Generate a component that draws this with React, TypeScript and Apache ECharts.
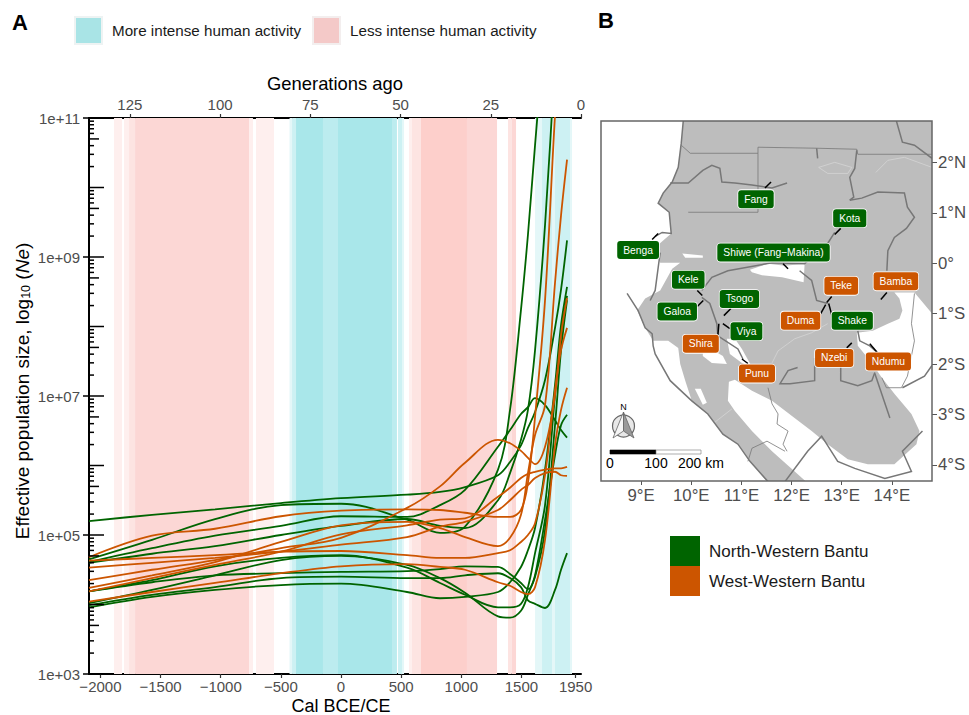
import React, { useEffect, useRef } from "react";
import * as echarts from "echarts";

// ---------- Panel A data (log10 Ne read at these calendar years) ----------
const years = [-2095, -1571, -1047, -499, 0, 549, 823, 1031, 1305, 1405, 1496, 1554, 1613, 1696, 1779, 1829, 1879];

const green1 = [5.20, 5.29, 5.37, 5.46, 5.53, 5.58, 5.62, 5.69, 5.86, 6.05, 6.29, 6.54, 6.77, 7.23, 7.98, 8.53, 9.24];
const green2 = [4.61, 4.81, 4.99, 5.13, 5.27, 5.26, 5.43, 5.65, 6.27, 6.51, 6.74, 6.84, 6.97, 6.87, 6.65, 6.51, 6.40];
const green3 = [4.65, 4.93, 5.23, 5.43, 5.45, 5.22, 5.03, 5.12, 5.94, 6.80, 8.24, 9.32, 10.61, 12.27, 13.42, 13.99, 14.57];
const green4 = [4.60, 4.73, 4.84, 5.00, 5.13, 5.23, 5.13, 5.10, 5.50, 5.89, 6.37, 6.80, 7.66, 9.46, 11.83, 13.27, 14.42];
const green5 = [4.19, 4.32, 4.42, 4.45, 4.47, 4.48, 4.51, 4.55, 4.54, 4.44, 4.31, 4.22, 4.40, 5.07, 6.58, 7.66, 8.38];
const green6 = [3.99, 4.14, 4.25, 4.38, 4.40, 4.38, 4.38, 4.42, 4.45, 4.38, 4.25, 4.06, 4.01, 3.95, 4.21, 4.50, 4.74];
const green7 = [3.96, 4.11, 4.21, 4.28, 4.30, 4.18, 4.09, 4.11, 4.18, 4.32, 4.54, 4.78, 5.10, 5.94, 7.16, 8.02, 8.57];
const green8 = [4.19, 4.35, 4.55, 4.67, 4.71, 4.53, 4.31, 4.14, 3.96, 3.96, 4.01, 4.25, 4.74, 5.43, 7.01, 7.88, 8.44];
const green9 = [4.02, 4.21, 4.42, 4.64, 4.70, 4.57, 4.38, 4.17, 3.83, 3.81, 3.91, 4.14, 4.42, 5.22, 6.15, 6.58, 6.73];

const orange1 = [4.68, 4.99, 5.09, 5.27, 5.35, 5.37, 5.36, 5.32, 5.26, 5.26, 5.36, 5.75, 6.70, 8.38, 11.04, 12.27, 13.42];
const orange2 = [4.24, 4.42, 4.61, 4.90, 5.14, 5.19, 5.10, 4.97, 4.84, 4.96, 5.29, 5.89, 6.44, 6.87, 8.63, 9.60, 10.40];
const orange3 = [4.35, 4.50, 4.64, 4.81, 4.96, 5.39, 5.70, 6.04, 6.37, 6.32, 6.21, 6.11, 6.02, 6.27, 7.01, 7.88, 8.41];
const orange4 = [4.63, 4.67, 4.71, 4.76, 4.77, 4.71, 4.67, 4.67, 4.74, 4.78, 4.90, 5.00, 5.17, 5.86, 7.09, 7.66, 7.98];
const orange5 = [4.04, 4.18, 4.31, 4.45, 4.55, 4.58, 4.54, 4.50, 4.32, 4.27, 4.18, 4.15, 4.25, 4.93, 6.29, 6.80, 7.12];
const orange6 = [4.19, 4.38, 4.57, 4.76, 5.01, 5.14, 5.22, 5.24, 5.55, 5.68, 5.82, 5.88, 5.91, 5.94, 5.96, 5.96, 5.98];
const orange7 = [4.53, 4.60, 4.67, 4.76, 4.86, 4.97, 5.12, 5.19, 5.36, 5.50, 5.65, 5.72, 5.82, 5.89, 5.91, 5.86, 5.85];

const greenLines = [green1, green2, green3, green4, green5, green6, green7, green8, green9];
const orangeLines = [orange1, orange2, orange3, orange4, orange5, orange6, orange7];

// Bands: [start year, end year, tier]
const moreBands = [
  [-428, -407, 1], [-407, -374, 2], [-374, -150, 4], [-150, -25, 3], [-25, 424, 4], [424, 465, 3],
  [474, 507, 2], [507, 524, 1], [1613, 1671, 1], [1671, 1754, 2], [1754, 1779, 1], [1779, 1904, 2], [1904, 1920, 1],
];
const lessBands = [
  [-1887, -1820, 1], [-1804, -1762, 1], [-1762, -1712, 2], [-1712, -765, 3], [-765, -732, 1], [-707, -557, 1],
  [565, 590, 1], [590, 615, 2], [615, 665, 2], [665, 1047, 4], [1047, 1297, 3], [1388, 1419, 2], [1419, 1455, 3],
];

const bottomTicks = [-2000, -1500, -1000, -500, 0, 500, 1000, 1500, 1950];
const generationTicks = [0, 25, 50, 75, 100, 125];
const decades = [3, 4, 5, 6, 7, 8, 9, 10, 11];
const logMultipliers = [2, 3, 4, 5, 6, 7, 8, 9];
const labelledDecades = [3, 5, 7, 9, 11];

// ---------- Panel B data (lon, lat) ----------
const landPolygon = [
  [9.84, 2.82], [14.8, 2.82], [14.8, -1.0], [14.45, -0.58], [14.05, -0.58], [14.15, -0.7], [14.21, -0.94], [14.15, -1.1],
  [13.92, -1.2], [13.62, -1.34], [13.3, -1.38], [13.32, -1.64], [13.6, -1.98], [13.8, -2.27], [14.05, -2.59], [14.39, -2.99],
  [14.55, -3.33], [14.49, -3.59], [14.05, -3.99], [13.52, -3.99], [13.12, -3.89], [12.72, -3.59], [12.4, -3.33], [12.06, -3.07],
  [11.61, -2.73], [11.21, -2.53], [10.87, -2.31], [10.75, -2.35], [10.73, -2.73], [10.87, -2.93], [11.21, -3.33], [11.61, -3.73],
  [12.32, -4.36], [11.53, -4.36], [11.17, -3.93], [10.93, -3.59], [10.63, -3.39], [10.33, -2.99], [10.01, -2.73], [9.88, -2.33],
  [9.78, -2.0], [9.74, -1.68], [9.54, -1.54], [9.24, -1.54], [9.08, -1.28], [8.92, -0.94], [9.08, -0.7], [9.38, -0.54],
  [9.62, -0.11], [9.78, 0.01], [9.38, 0.01], [9.28, 0.31], [9.6, 0.59], [9.56, 1.01], [9.34, 1.19], [9.44, 1.39],
  [9.62, 1.61], [9.74, 1.9], [9.8, 2.38],
];
const holeGulf = [[9.82, 0.19], [10.23, 0.15], [10.23, 0.11], [9.88, 0.11]];
const holeLake = [[11.17, -0.13], [11.53, -0.01], [11.87, -0.05], [12.26, -0.01], [12.24, -0.38], [11.81, -0.28], [11.41, -0.24], [11.21, -0.18]];
const holeShira = [[10.23, -1.64], [10.23, -1.84], [10.41, -1.98], [10.71, -2.0], [10.63, -1.84], [10.53, -1.78]];
const holeViya = [[10.71, -1.5], [10.77, -1.8], [11.01, -1.98], [11.21, -2.06], [11.01, -1.7], [10.87, -1.5]];
const holeLagoon = [[10.07, -2.49], [10.19, -2.49], [10.31, -2.77], [10.23, -2.81]];
const holes = [holeGulf, holeLake, holeShira, holeViya, holeLagoon];

const coastNorth = [[9.84, 2.82], [9.8, 2.38], [9.74, 1.9], [9.62, 1.61], [9.44, 1.39], [9.34, 1.19], [9.56, 1.01], [9.6, 0.59], [9.42, 0.61], [9.28, 0.53]];
const coastMiddle = [[9.38, 0.21], [9.34, -0.09], [9.28, -0.54], [9.18, -0.74]];
const coastSouth = [[8.72, -0.6], [8.94, -0.94], [9.08, -1.28], [9.22, -1.4], [9.24, -1.64], [9.28, -1.8], [9.58, -2.33], [10.01, -2.73], [10.33, -2.99], [10.63, -3.39], [10.93, -3.59], [11.17, -3.93], [11.53, -4.33]];
const riverCongo = [[11.87, -4.33], [12.32, -3.73], [12.6, -3.43], [12.92, -3.93], [13.26, -4.07], [13.86, -4.27], [14.39, -4.13], [14.21, -3.73], [14.61, -3.33]];
const riverNorthA = [[12.5, 2.28], [12.52, 2.08]];
const riverNorthB = [[13.3, 2.24], [13.26, 1.88], [13.16, 1.7], [13.24, 1.31], [13.16, 1.25]];
const riverNtem = [[9.58, 1.59], [9.94, 1.59], [10.23, 1.84], [10.41, 1.94], [10.57, 1.88], [10.61, 1.61], [10.87, 1.59], [11.21, 1.55], [11.61, 1.49], [11.91, 1.59]];
const riverEast = [[13.16, 1.25], [13.4, 1.29], [13.72, 1.41], [14.25, 1.39], [14.31, 1.11], [14.45, 0.91], [14.29, 0.69], [14.05, 0.51], [13.92, 0.25], [13.9, -0.15]];
const riverOgooue = [[12.86, 0.61], [12.72, 0.39], [12.26, -0.01], [11.61, 0.01], [10.73, -0.15], [10.41, -0.28], [10.21, -0.54]];
const riverOgooueEast = [[12.16, -0.15], [12.4, -0.34], [12.5, -0.74], [12.72, -0.8]];
const riverNgounie = [[10.21, -0.68], [10.37, -0.8], [10.51, -1.2], [10.53, -1.44], [10.93, -1.7], [11.03, -1.9]];
const riverTopRight = [[14.09, 2.82], [14.21, 2.4], [14.45, 2.34], [14.8, 2.08]];
const riverSouth = [[13.66, -2.19], [13.96, -3.07]];
const riverNdumu = [[13.32, -1.34], [13.36, -1.54], [13.56, -1.64], [13.72, -1.78]];
const riverRight = [[14.21, -2.47], [14.65, -2.24], [14.8, -2.03]];
const borderGabonSouth = [[12.12, -2.07], [11.93, -2.13], [11.77, -2.39], [11.97, -2.39], [12.46, -2.33], [12.46, -1.88]];
const borderGabonEast = [[12.98, -2.0], [12.98, -2.33], [13.32, -2.43], [13.6, -2.33], [13.66, -2.17]];
const thickLines = [coastNorth, coastMiddle, coastSouth, riverCongo, riverNorthA, riverNorthB, riverNtem, riverEast, riverOgooue, riverOgooueEast, riverNgounie, riverTopRight, riverSouth, riverNdumu, riverRight, borderGabonSouth, borderGabonEast];

const borderRioMuni = [[9.8, 2.34], [9.98, 2.18], [11.33, 2.18], [11.33, 1.01], [9.94, 1.01]];
const borderCameroon = [[11.33, 2.18], [11.33, 2.3], [12.5, 2.28], [13.3, 2.26], [13.32, 2.16], [14.8, 2.16]];
const borderCongoA = [[11.53, -2.47], [11.61, -2.79], [11.73, -2.99], [11.71, -3.19], [11.93, -3.33], [11.83, -3.59], [11.91, -3.73]];
const borderCongoB = [[11.13, -3.93], [11.21, -3.67], [11.51, -3.53], [11.87, -3.73]];
const borderEast = [[14.45, -0.6], [14.39, -1.2], [14.45, -1.54], [14.31, -2.24], [14.19, -2.47], [13.89, -2.47], [13.8, -2.27]];
const thinLines = [borderRioMuni, borderCameroon, borderCongoA, borderCongoB, borderEast];

const paleA = [[11.61, -1.98], [11.73, -1.74], [12.06, -1.5], [12.4, -1.38], [12.72, -1.2]];
const paleB = [[10.45, -3.17], [10.81, -2.89]];
const paleC = [[13.68, 1.8], [13.92, 2.04], [14.25, 2.1], [14.8, 1.9]];
const paleD = [[12.54, 1.9], [12.86, 2.0], [13.2, 1.9], [13.12, 1.78], [12.72, 1.78], [12.54, 1.9]];
const paleLines = [paleA, paleB, paleC, paleD];

const connectors = [
  [[11.47, 1.49], [11.59, 1.61]], [[12.86, 0.57], [12.98, 0.69]], [[9.22, 0.47], [9.34, 0.59]], [[11.83, -0.01], [11.93, -0.11]],
  [[10.12, -0.54], [10.22, -0.64]], [[10.65, -1.04], [10.79, -0.9]], [[12.7, -0.78], [12.8, -0.66]], [[13.78, -0.72], [13.9, -0.58]],
  [[10.12, -0.86], [10.24, -0.74]], [[12.58, -1.0], [12.68, -0.82]], [[12.74, -0.8], [12.8, -1.02]], [[10.63, -1.2], [10.77, -1.3]],
  [[10.55, -1.2], [10.53, -1.44]], [[13.1, -1.68], [13.2, -1.58]], [[13.56, -1.6], [13.7, -1.76]], [[11.01, -1.9], [11.13, -1.99]],
];

const northWesternLabels = [
  { name: "Fang", value: [11.29, 1.27] }, { name: "Kota", value: [13.16, 0.89] }, { name: "Benga", value: [8.94, 0.26] },
  { name: "Shiwe (Fang\u2212Makina)", value: [11.64, 0.21] }, { name: "Kele", value: [9.94, -0.33] }, { name: "Tsogo", value: [10.96, -0.71] },
  { name: "Galoa", value: [9.72, -0.96] }, { name: "Shake", value: [13.21, -1.14] }, { name: "Viya", value: [11.1, -1.35] },
];
const westWesternLabels = [
  { name: "Teke", value: [12.99, -0.45] }, { name: "Bamba", value: [14.08, -0.36] }, { name: "Duma", value: [12.18, -1.14] },
  { name: "Shira", value: [10.19, -1.6] }, { name: "Nzebi", value: [12.85, -1.88] }, { name: "Ndumu", value: [13.93, -1.95] },
  { name: "Punu", value: [11.31, -2.19] },
];
const lonTicks = [9, 10, 11, 12, 13, 14];
const latTicks = [-4, -3, -2, -1, 0, 1, 2];

const GREEN = "#006400";
const ORANGE = "#cc5500";
const TEAL_TIERS = ["", "#e4f7f8", "#cdf1f3", "#bcecef", "#a9e7ea"];
const PINK_TIERS = ["", "#feefee", "#fde4e2", "#fcd7d5", "#fdcfcb"];
const FONT = "Liberation Sans";

const bandSeries = (name: string, bands: number[][], tiers: string[], color: string) => ({
  type: "custom",
  name,
  xAxisIndex: 0,
  yAxisIndex: 0,
  z: 1,
  silent: true,
  clip: true,
  itemStyle: { color },
  encode: { x: [0, 1], y: 2 },
  data: bands,
  renderItem: (params: any, api: any) => {
    const x0 = api.coord([api.value(0), 1e5])[0];
    const x1 = api.coord([api.value(1), 1e5])[0];
    const cs = params.coordSys;
    return { type: "rect", shape: { x: x0, y: cs.y, width: x1 - x0, height: cs.height }, style: { fill: tiers[api.value(2)] } };
  },
});

const lineSeries = (name: string, values: number[], color: string, z: number) => ({
  type: "line",
  name,
  xAxisIndex: 0,
  yAxisIndex: 0,
  showSymbol: false,
  smooth: 0.35,
  clip: true,
  z,
  silent: true,
  itemStyle: { color },
  lineStyle: { color, width: 1.8 },
  data: years.map((y, i) => [y, Math.pow(10, values[i])]),
});

const logTickData: number[][] = [];
decades.forEach((d) => {
  logTickData.push([Math.pow(10, d), 15, labelledDecades.includes(d) ? 6 : 0]);
  if (d < 11) logMultipliers.forEach((m) => logTickData.push([m * Math.pow(10, d), m === 5 ? 10 : 5, 0]));
});

const polySeries = (list: number[][][], style: any, z: number, closed: boolean) => ({
  type: "custom",
  xAxisIndex: 2,
  yAxisIndex: 1,
  z,
  silent: true,
  clip: true,
  data: list.map((l) => l[0]),
  renderItem: (params: any, api: any) => ({
    type: closed ? "polygon" : "polyline",
    shape: { points: list[params.dataIndex].map((p) => api.coord(p)) },
    style,
  }),
});

const labelSeries = (data: any[], color: string) => ({
  type: "scatter",
  name: color === GREEN ? "North-Western labels" : "West-Western labels",
  xAxisIndex: 2,
  yAxisIndex: 1,
  symbolSize: 1,
  z: 8,
  silent: true,
  itemStyle: { color, opacity: 1 },
  label: {
    show: true,
    opacity: 1,
    position: "inside",
    formatter: "{b}",
    color: "#ffffff",
    fontSize: 10.3,
    fontFamily: FONT,
    backgroundColor: color,
    borderColor: "#ffffff",
    borderWidth: 0.8,
    borderRadius: 3,
    padding: [4, 6, 4, 6],
  },
  labelLayout: { hideOverlap: false },
  data,
});

export default function App() {
  const ref = useRef<HTMLDivElement>(null);
  useEffect(() => {
    document.body.style.margin = "0";
    const chart = echarts.init(ref.current!, null, { renderer: "svg" });
    const option: any = {
      animation: false,
      backgroundColor: "#ffffff",
      textStyle: { fontFamily: FONT },
      legend: [
        {
          left: 69, top: 11, itemWidth: 27, itemHeight: 27, selectedMode: false,
          textStyle: { fontSize: 15.2, color: "#1a1a1a", fontFamily: FONT, padding: [0, 0, 0, 5] },
          data: [{ name: "More intense human activity", icon: "rect", itemStyle: { color: "#a9e4e6", borderColor: "#eef3f3", borderWidth: 2 } }],
        },
        {
          left: 307, top: 11, itemWidth: 27, itemHeight: 27, selectedMode: false,
          textStyle: { fontSize: 15.2, color: "#1a1a1a", fontFamily: FONT, padding: [0, 0, 0, 5] },
          data: [{ name: "Less intense human activity", icon: "rect", itemStyle: { color: "#f4c9c8", borderColor: "#f3eeee", borderWidth: 2 } }],
        },
        {
          left: 665, top: 531, orient: "vertical", itemWidth: 30, itemHeight: 30, itemGap: 0, selectedMode: false,
          textStyle: { fontSize: 17, color: "#1a1a1a", fontFamily: FONT, padding: [0, 0, 0, 4] },
          data: [
            { name: "North-Western Bantu", icon: "rect", itemStyle: { color: GREEN } },
            { name: "West-Western Bantu", icon: "rect", itemStyle: { color: ORANGE } },
          ],
        },
      ],
      grid: [
        { left: 89, top: 118, width: 492, height: 556, containLabel: false, outerBoundsMode: "none" },
        { left: 601, top: 121, width: 331, height: 360, containLabel: false, outerBoundsMode: "none" },
      ],
      xAxis: [
        {
          type: "value", gridIndex: 0, position: "bottom", min: -2095, max: 1995,
          splitLine: { show: false },
          axisLine: { onZero: false, lineStyle: { color: "#000", width: 2 } },
          axisTick: { length: 4, lineStyle: { color: "#333", width: 1.2 }, customValues: bottomTicks },
          axisLabel: {
            fontSize: 15, color: "#4d4d4d", margin: 5, customValues: bottomTicks, hideOverlap: false,
            formatter: (v: number) => String(v).replace("-", "\u2212"),
          },
        },
        {
          type: "value", gridIndex: 0, position: "top", inverse: true, min: 0, max: 136.33,
          name: "Generations ago", nameLocation: "middle", nameGap: 26,
          nameTextStyle: { fontSize: 18.4, color: "#000", fontFamily: FONT },
          splitLine: { show: false },
          axisLine: { onZero: false, lineStyle: { color: "#000", width: 2 } },
          axisTick: { length: 4, lineStyle: { color: "#333", width: 1.2 }, customValues: generationTicks },
          axisLabel: { fontSize: 15, color: "#4d4d4d", margin: 6, customValues: generationTicks },
        },
        {
          type: "value", gridIndex: 1, position: "bottom", min: 8.2, max: 14.8,
          splitLine: { show: false },
          axisLine: { show: false, onZero: false },
          axisTick: { length: 4, lineStyle: { color: "#555", width: 1 }, customValues: lonTicks },
          axisLabel: { fontSize: 16.8, color: "#4d4d4d", margin: 6, customValues: lonTicks, formatter: (v: number) => `${v}\u00b0E` },
        },
      ],
      yAxis: [
        {
          type: "log", logBase: 10, gridIndex: 0, position: "left", min: 1e3, max: 1e11, interval: 1,
          splitLine: { show: false },
          minorTick: { show: false },
          axisLine: { show: true, onZero: false, lineStyle: { color: "#000", width: 2 } },
          axisTick: { show: false },
          axisLabel: {
            fontSize: 15, color: "#4d4d4d", margin: 9,
            formatter: (v: number) => {
              const e = Math.round(Math.log10(v));
              if (!labelledDecades.includes(e)) return "";
              return `1e+${e < 10 ? "0" : ""}${e}`;
            },
          },
        },
        {
          type: "value", gridIndex: 1, position: "right", min: -4.32, max: 2.82,
          splitLine: { show: false },
          axisLine: { show: false, onZero: false },
          axisTick: { length: 5, lineStyle: { color: "#555", width: 1 }, customValues: latTicks },
          axisLabel: {
            fontSize: 16.8, color: "#4d4d4d", margin: 6, customValues: latTicks,
            formatter: (v: number) => (v === 0 ? "0\u00b0" : v > 0 ? `${v}\u00b0N` : `${-v}\u00b0S`),
          },
        },
      ],
      series: [
        bandSeries("More intense human activity", moreBands, TEAL_TIERS, "#a9e4e6"),
        bandSeries("Less intense human activity", lessBands, PINK_TIERS, "#f4c9c8"),
        ...greenLines.map((v) => lineSeries("North-Western Bantu", v, GREEN, 5)),
        ...orangeLines.map((v) => lineSeries("West-Western Bantu", v, ORANGE, 6)),
        {
          type: "custom",
          xAxisIndex: 0,
          yAxisIndex: 0,
          z: 10,
          silent: true,
          clip: false,
          encode: { y: 0 },
          data: logTickData,
          renderItem: (params: any, api: any) => {
            const y = api.coord([0, api.value(0)])[1];
            const x = params.coordSys.x;
            return {
              type: "line",
              shape: { x1: x - api.value(2), y1: y, x2: x + api.value(1), y2: y },
              style: { stroke: "#000", lineWidth: 1.5 },
            };
          },
        },
        polySeries([landPolygon], { fill: "#bdbdbd", stroke: "none" }, 1, true),
        polySeries(holes, { fill: "#ffffff", stroke: "none" }, 2, true),
        polySeries(paleLines, { fill: "none", stroke: "#d9d9d9", lineWidth: 0.7 }, 3, false),
        polySeries(thinLines, { fill: "none", stroke: "#777777", lineWidth: 0.8 }, 3, false),
        polySeries(thickLines, { fill: "none", stroke: "#777777", lineWidth: 1.5 }, 3, false),
        polySeries(connectors, { fill: "none", stroke: "#000000", lineWidth: 1.5 }, 4, false),
        labelSeries(northWesternLabels, GREEN),
        labelSeries(westWesternLabels, ORANGE),
      ],
      graphic: [
        { type: "text", left: 12, top: 11, style: { text: "A", font: `bold 22px ${FONT}`, fill: "#000" } },
        { type: "text", left: 598, top: 9, style: { text: "B", font: `bold 22px ${FONT}`, fill: "#000" } },
        { type: "text", x: 341, y: 706, style: { text: "Cal BCE/CE", font: `18px ${FONT}`, fill: "#000", align: "center", verticalAlign: "middle" } },
        {
          type: "text", x: 22, y: 391, rotation: Math.PI / 2,
          style: {
            text: "Effective population size, log{sub|10} ({it|Ne})",
            font: `19px ${FONT}`, fill: "#000", align: "center", verticalAlign: "middle",
            rich: {
              sub: { fontSize: 12.5, fontFamily: FONT, fill: "#000", verticalAlign: "bottom", padding: [8, 0, 0, 0] },
              it: { fontSize: 19, fontFamily: FONT, fontStyle: "italic", fill: "#000" },
            },
          },
        },
        { type: "rect", z: 20, shape: { x: 601, y: 121, width: 331, height: 360 }, style: { fill: "none", stroke: "#666666", lineWidth: 1.5 } },
        // scale bar
        { type: "rect", z: 20, shape: { x: 610, y: 450, width: 46, height: 4 }, style: { fill: "#000", stroke: "#000", lineWidth: 0.6 } },
        { type: "rect", z: 20, shape: { x: 656, y: 450, width: 45, height: 4 }, style: { fill: "#fff", stroke: "#777", lineWidth: 0.6 } },
        { type: "text", z: 20, x: 610, y: 463, style: { text: "0", font: `14px ${FONT}`, fill: "#000", align: "center", verticalAlign: "middle" } },
        { type: "text", z: 20, x: 656, y: 463, style: { text: "100", font: `14px ${FONT}`, fill: "#000", align: "center", verticalAlign: "middle" } },
        { type: "text", z: 20, x: 678, y: 463, style: { text: "200 km", font: `14px ${FONT}`, fill: "#000", align: "left", verticalAlign: "middle" } },
        // north arrow
        { type: "circle", z: 20, shape: { cx: 623.5, cy: 426, r: 11 }, style: { fill: "#e8e8e8", stroke: "#666", lineWidth: 1.2 } },
        { type: "polygon", z: 21, shape: { points: [[623.5, 412], [613, 438], [623.5, 431]] }, style: { fill: "#f5f5f5", stroke: "#666", lineWidth: 0.8 } },
        { type: "polygon", z: 21, shape: { points: [[623.5, 412], [634, 438], [623.5, 431]] }, style: { fill: "#9a9a9a", stroke: "#666", lineWidth: 0.8 } },
        { type: "text", z: 21, x: 623.5, y: 407, style: { text: "N", font: `9px ${FONT}`, fill: "#000", align: "center", verticalAlign: "middle" } },
      ],
    };
    chart.setOption(option);
    return () => chart.dispose();
  }, []);
  return <div ref={ref} style={{ width: 969, height: 715 }} />;
}
